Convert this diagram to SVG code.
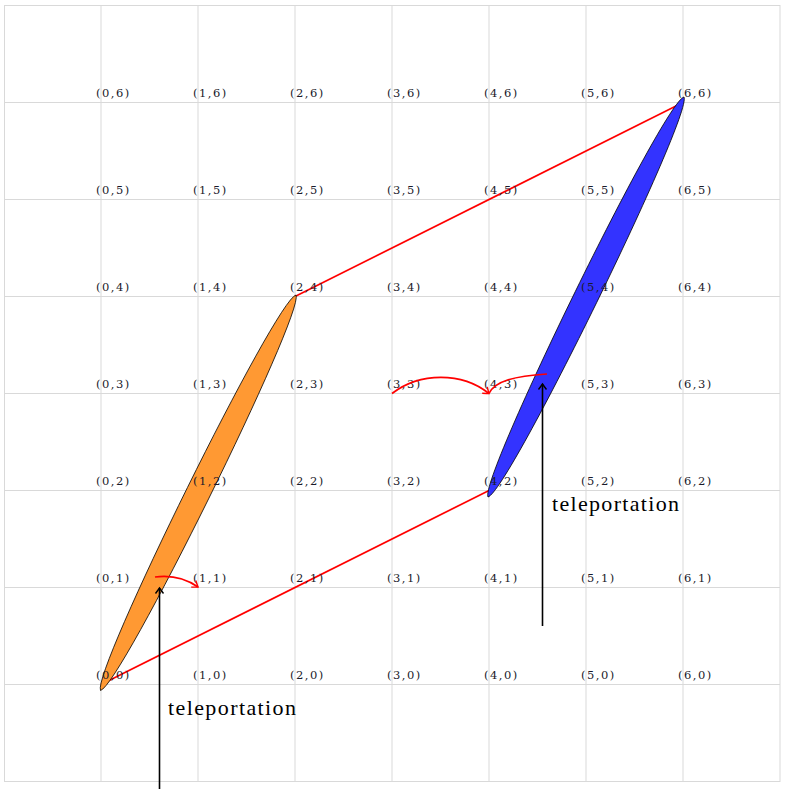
<svg xmlns="http://www.w3.org/2000/svg" width="786" height="789" viewBox="0 0 786 789">
<style>
.grid{stroke:#d9d9d9;stroke-width:1;fill:none}
.lbl{font-size:11.5px;letter-spacing:1.5px;fill:#1a1a2a}
.red{stroke:#ff0000;stroke-width:1.7;fill:none}
.blk{stroke:#000;stroke-width:1.6;fill:none}
.big{font-size:22px;fill:#000}
.lens{stroke:#000;stroke-width:0.8}
</style>
<defs>
<marker id="arrR" markerUnits="userSpaceOnUse" markerWidth="14" markerHeight="14" viewBox="-7 -7 14 14" refX="0" refY="0" orient="auto">
<path d="M-5.5,-4 Q-1.5,-1 0,0 Q-1.5,1 -5.5,4" stroke="#ff0000" stroke-width="1.4" fill="none"/>
</marker>
<marker id="arrK" markerUnits="userSpaceOnUse" markerWidth="14" markerHeight="14" viewBox="-7 -7 14 14" refX="0" refY="0" orient="auto">
<path d="M-5.5,-4 Q-1.5,-1 0,0 Q-1.5,1 -5.5,4" stroke="#000" stroke-width="1.4" fill="none"/>
</marker>
</defs>
<rect width="786" height="789" fill="#fff"/>
<g id="grid" class="grid">
<rect x="4.5" y="5.5" width="775.5" height="776"/>
<path d="M101,5.5V781.5M198,5.5V781.5M295,5.5V781.5M392,5.5V781.5M489,5.5V781.5M586,5.5V781.5M683,5.5V781.5"/>
<path d="M4.5,684.5H780M4.5,587.5H780M4.5,490.5H780M4.5,393.5H780M4.5,296.5H780M4.5,199.5H780M4.5,102.5H780"/>
</g>
<g id="connectors">
<path class="red" d="M101,684.5L489,490.5"/>
<path class="red" d="M295,296.5L683,102.5"/>
</g>
<g id="shape-orange">
<path class="lens" fill="#ff9933" d="M100.5,690.5C120.7,685.7 304.4,314 296,295C275.8,299.8 92,671.5 100.5,690.5Z"/>
</g>
<g id="shape-blue">
<path class="lens" fill="#3333ff" d="M488,497C508.3,492 692.5,116 684,97C663.7,102 479.5,478 488,497Z"/>
</g>
<g id="labels" class="lbl" font-family="DejaVu Serif, serif">
<text x="96" y="97">(0,6)</text><text x="193" y="97">(1,6)</text><text x="290" y="97">(2,6)</text><text x="387" y="97">(3,6)</text><text x="484" y="97">(4,6)</text><text x="581" y="97">(5,6)</text><text x="678" y="97">(6,6)</text>
<text x="96" y="194">(0,5)</text><text x="193" y="194">(1,5)</text><text x="290" y="194">(2,5)</text><text x="387" y="194">(3,5)</text><text x="484" y="194">(4,5)</text><text x="581" y="194">(5,5)</text><text x="678" y="194">(6,5)</text>
<text x="96" y="291">(0,4)</text><text x="193" y="291">(1,4)</text><text x="290" y="291">(2,4)</text><text x="387" y="291">(3,4)</text><text x="484" y="291">(4,4)</text><text x="581" y="291">(5,4)</text><text x="678" y="291">(6,4)</text>
<text x="96" y="388">(0,3)</text><text x="193" y="388">(1,3)</text><text x="290" y="388">(2,3)</text><text x="387" y="388">(3,3)</text><text x="484" y="388">(4,3)</text><text x="581" y="388">(5,3)</text><text x="678" y="388">(6,3)</text>
<text x="96" y="485">(0,2)</text><text x="193" y="485">(1,2)</text><text x="290" y="485">(2,2)</text><text x="387" y="485">(3,2)</text><text x="484" y="485">(4,2)</text><text x="581" y="485">(5,2)</text><text x="678" y="485">(6,2)</text>
<text x="96" y="582">(0,1)</text><text x="193" y="582">(1,1)</text><text x="290" y="582">(2,1)</text><text x="387" y="582">(3,1)</text><text x="484" y="582">(4,1)</text><text x="581" y="582">(5,1)</text><text x="678" y="582">(6,1)</text>
<text x="96" y="679">(0,0)</text><text x="193" y="679">(1,0)</text><text x="290" y="679">(2,0)</text><text x="387" y="679">(3,0)</text><text x="484" y="679">(4,0)</text><text x="581" y="679">(5,0)</text><text x="678" y="679">(6,0)</text>
</g>
<g id="arrows">
<path class="red" d="M155,577C170,575 185,578 198,587" marker-end="url(#arrR)"/>
<path class="red" d="M392,393.5C420,372 462,372 489,393.5" marker-end="url(#arrR)"/>
<path class="red" d="M489,393.5C495,381 515,376 547,374"/>
<path class="blk" d="M159.5,789L159.5,588" marker-end="url(#arrK)"/>
<path class="blk" d="M542.5,626L542.5,384" marker-end="url(#arrK)"/>
</g>
<g id="texts" font-family="Liberation Serif, serif">
<text class="big" x="168" y="715" textLength="128" lengthAdjust="spacing">teleportation</text>
<text class="big" x="552" y="511" textLength="127" lengthAdjust="spacing">teleportation</text>
</g>
</svg>
